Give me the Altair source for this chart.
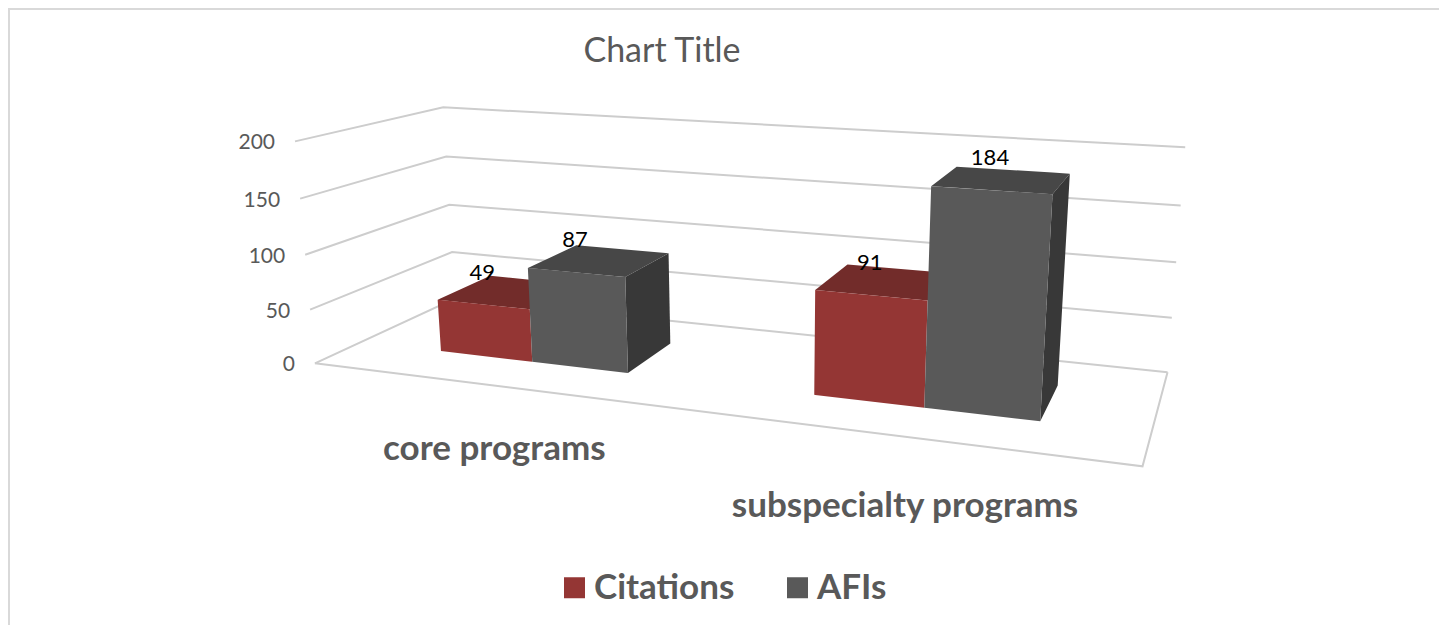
import altair as alt
import numpy as np
import pandas as pd

categories = ["core programs", "subspecialty programs"]
series = ["Citations", "AFIs"]
citations = [49, 91]
afis = [87, 184]
ticks = [0, 50, 100, 150, 200]
title = "Chart Title"

FONT = "Lato"
W, H = 1431, 617
FRONT = {"Citations": "#943634", "AFIs": "#595959"}
TOP = {"Citations": "#722c2a", "AFIs": "#474747"}
SIDE = "#383838"
GRID = "#cdcdcd"

# Camera of the 3-D column chart: (along categories, depth, value) -> picture.
# Calibrated on the corners of the chart's floor and walls.
calib = [
    (0, 0, 0, 315, 363), (1, 0, 0, 1143, 466), (1, 1, 0, 1167, 372), (0, 1, 0, 455, 300),
    (0, 0, 50, 310, 309), (0, 0, 100, 305, 254), (0, 0, 150, 300, 199), (0, 0, 200, 295, 143),
    (0, 1, 50, 452, 252), (0, 1, 100, 449, 204), (0, 1, 150, 447, 156), (0, 1, 200, 443, 107),
    (1, 1, 50, 1172, 318), (1, 1, 100, 1176, 263), (1, 1, 150, 1181, 205), (1, 1, 200, 1185, 147),
]
A, b = [], []
for u, d, v, x, y in calib:
    v = v / 200
    A.append([u, d, v, 1, 0, 0, 0, 0, -x * u, -x * d, -x * v]); b.append(x)
    A.append([0, 0, 0, 0, u, d, v, 1, -y * u, -y * d, -y * v]); b.append(y)
p = np.linalg.lstsq(np.array(A, float), np.array(b, float), rcond=None)[0]


def project(u, d, v):
    v = v / 200
    w = p[8] * u + p[9] * d + p[10] * v + 1
    return ((p[0] * u + p[1] * d + p[2] * v + p[3]) / w,
            (p[4] * u + p[5] * d + p[6] * v + p[7]) / w)


def polygon_rows(pts, face, colour):
    """A convex polygon as the x / y / y2 rows of an area mark."""
    rows = []
    xs = sorted({round(q[0], 3) for q in pts})
    n = len(pts)
    for x in xs:
        ys = []
        for i in range(n):
            (x0, y0), (x1, y1) = pts[i], pts[(i + 1) % n]
            if abs(x1 - x0) < 1e-6:
                if abs(x - x0) < 2e-3:
                    ys += [y0, y1]
            elif min(x0, x1) - 2e-3 <= x <= max(x0, x1) + 2e-3:
                ys.append(y0 + (y1 - y0) * (x - x0) / (x1 - x0))
        rows.append({"x": x, "y": min(ys), "y2": max(ys), "face": face, "fill": colour})
    return rows


# bar footprint on the floor
GROUP_CENTRES = [0.25, 0.75]
BAR = 0.131
D0, D1 = 0.30, 0.70

back_rows, front_rows, label_rows = [], [], []
for c, cat in enumerate(categories):
    for s, (name, vals) in enumerate(zip(series, [citations, afis])):
        v = vals[c]
        u0 = GROUP_CENTRES[c] + (s - 1) * BAR
        u1 = u0 + BAR
        key = f"{cat}-{name}"
        if name == "AFIs":
            back_rows += polygon_rows([project(u1, D0, 0), project(u1, D1, 0), project(u1, D1, v), project(u1, D0, v)],
                                      key + "-side", SIDE)
        back_rows += polygon_rows([project(u0, D0, v), project(u1, D0, v), project(u1, D1, v), project(u0, D1, v)],
                                  key + "-top", TOP[name])
        for row in polygon_rows([project(u0, D0, 0), project(u1, D0, 0), project(u1, D0, v), project(u0, D0, v)],
                                key + "-front", FRONT[name]):
            row["series"] = name
            front_rows.append(row)
        lx, ly = project((u0 + u1) / 2, D0, v)
        label_rows.append({"x": lx - 1, "y": ly - 32, "text": str(v)})

line_rows = []


def polyline(name, pts):
    for i, (x, y) in enumerate(pts):
        line_rows.append({"x": x, "y": y, "line": name, "i": i})


for t in ticks:
    polyline(f"wall-{t}", [project(0, 0, t), project(0, 1, t), project(1, 1, t)])
polyline("floor", [project(0, 0, 0), project(1, 0, 0), project(1, 1, 0)])

tick_rows = []
for t in ticks:
    x, y = project(0, 0, t)
    tick_rows.append({"x": x - 20, "y": y + 2, "text": str(t)})

cat_rows = []
for c, cat in enumerate(categories):
    x = project(GROUP_CENTRES[c], 0, 0)[0]
    y = project(GROUP_CENTRES[c], 0, -58)[1]
    cat_rows.append({"x": x + 2, "y": y, "text": cat})

X = alt.X("x:Q", axis=None, scale=alt.Scale(domain=[8, 8 + W], range=[0, W]))
Y = alt.Y("y:Q", axis=None, stack=None, scale=alt.Scale(domain=[8 + H, 8], range=[H, 0]))

frame = alt.Chart(pd.DataFrame({"x": [9, 9, 8 + W], "y": [8 + H, 9, 9], "i": [0, 1, 2]})).mark_line(
    color="#d9d9d9", strokeWidth=2).encode(X, Y, order=alt.Order("i:Q"))

lines = alt.Chart(pd.DataFrame(line_rows)).mark_line(color=GRID, strokeWidth=2).encode(
    X, Y, detail="line:N", order=alt.Order("i:Q"))

back = alt.Chart(pd.DataFrame(back_rows)).mark_area(interpolate="linear").encode(
    X, Y, y2="y2:Q", detail="face:N", fill=alt.Fill("fill:N", scale=None))

front = alt.Chart(pd.DataFrame(front_rows)).mark_area(interpolate="linear").encode(
    X, Y, y2="y2:Q", detail="face:N",
    fill=alt.Fill("series:N", sort=series,
                  scale=alt.Scale(domain=series, range=[FRONT[s] for s in series]),
                  legend=alt.Legend(title=None, orient="none", legendX=549, legendY=562, direction="horizontal",
                                    columns=2, columnPadding=45, symbolType="square", symbolSize=441,
                                    symbolStrokeWidth=0, symbolOpacity=1, labelFont=FONT, labelFontSize=35,
                                    labelFontWeight="bold", labelColor="#595959", labelLimit=300, labelOffset=2)))

val_labels = alt.Chart(pd.DataFrame(label_rows)).mark_text(font=FONT, fontSize=22, color="#000000").encode(
    X, Y, text="text:N")
tick_labels = alt.Chart(pd.DataFrame(tick_rows)).mark_text(font=FONT, fontSize=21, color="#595959", align="right").encode(
    X, Y, text="text:N")
cat_labels = alt.Chart(pd.DataFrame(cat_rows)).mark_text(font=FONT, fontSize=35, fontWeight="bold", color="#595959").encode(
    X, Y, text="text:N")

chart = alt.layer(frame, lines, back, front, val_labels, tick_labels, cat_labels).properties(
    width=W, height=H, padding=0,
    autosize=alt.AutoSizeParams(type="none"),
    title=alt.TitleParams(title, anchor="start", align="center", baseline="middle", offset=0,
                          dx=657, dy=81, font=FONT, fontSize=34, fontWeight="normal", color="#595959"),
).configure_view(stroke=None)

chart.save("out.html", embed_options={"renderer": "svg", "actions": False})
